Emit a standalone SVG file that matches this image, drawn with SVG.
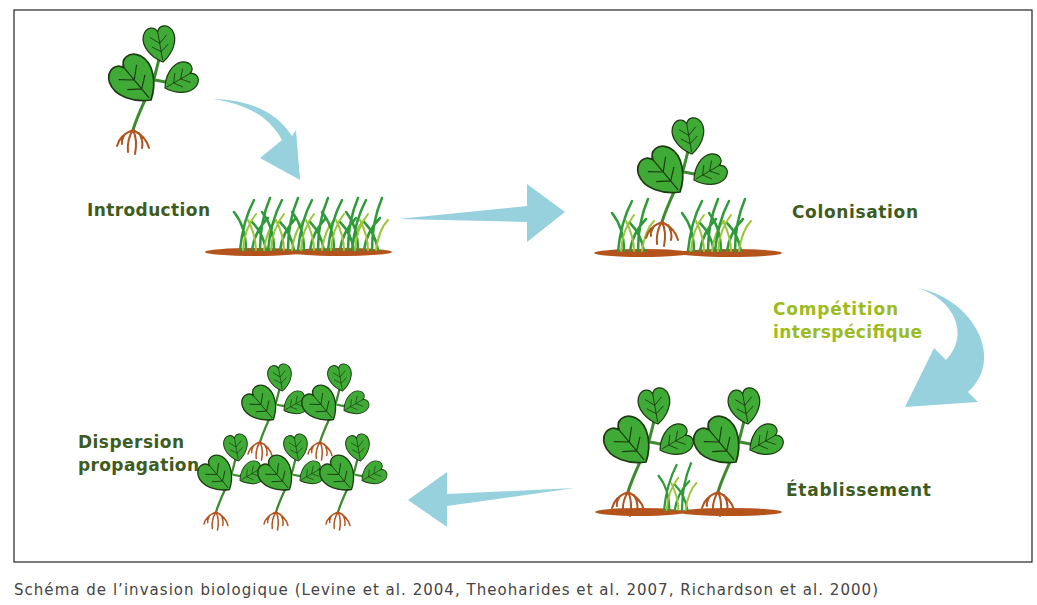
<svg xmlns="http://www.w3.org/2000/svg" xmlns:xlink="http://www.w3.org/1999/xlink" width="1037" height="605" viewBox="0 0 1037 605">
<style>
.lbl{font-family:"DejaVu Sans","Liberation Sans",sans-serif;font-weight:bold;font-size:17px;fill:#3e5b20}
.comp{fill:#9cbb1e}
.cap{font-family:"DejaVu Sans","Liberation Sans",sans-serif;font-size:15px;fill:#444}
.arr{fill:#96d1dd}
.leaf{fill:#3faa35;stroke:#1d3a12;stroke-width:1.2}
.vein{fill:none;stroke:#1d3a12;stroke-width:0.8}
.stem{fill:none;stroke:#3d8a30;stroke-width:3}
.root{fill:none;stroke:#b0551f;stroke-width:2;stroke-linecap:round}
.soil{fill:#b5531c}
.g1{fill:none;stroke:#2f9a3a;stroke-width:2.5;stroke-linecap:round}
.g2{fill:none;stroke:#9cc43a;stroke-width:2;stroke-linecap:round}
</style>
<defs>
<g id="leaf">
<path class="leaf" d="M0,0 C-10,-6 -18,-18 -14,-28 C-10,-36 -2,-35 0,-29 C2,-35 10,-36 14,-28 C18,-18 10,-6 0,0Z"/>
<path class="vein" d="M0,-2 L0,-28 M0,-10 L-8,-16 M0,-10 L8,-16 M0,-18 L-8,-25 M0,-18 L8,-25"/>
</g>
<g id="plant">
<path class="stem" d="M0,0 C6,-20 18,-40 22,-55 C26,-70 28,-80 30,-88"/>
<path class="stem" d="M16,-40 C10,-45 6,-48 4,-50"/>
<path class="stem" d="M22,-50 C30,-48 36,-48 40,-46"/>
<use xlink:href="#leaf" transform="translate(30,-68) rotate(-10) scale(1.05)"/>
<use xlink:href="#leaf" transform="translate(18,-30) rotate(-40) scale(1.45)"/>
<use xlink:href="#leaf" transform="translate(32,-42) rotate(60) scale(1.0)"/>
<path class="root" d="M0,0 C-8,3 -14,8 -16,16 M0,0 C-4,6 -6,12 -5,22 M0,0 C3,6 4,14 2,24 M0,0 C8,4 14,10 16,18 M-8,4 C-10,8 -12,10 -11,14 M6,3 C10,10 10,14 9,18"/>
</g>
<g id="grass">
<path class="g1" d="M0,0 C2,-20 6,-35 14,-50 M6,0 C6,-15 2,-28 -6,-38 M12,0 C14,-14 20,-24 28,-32 M20,0 C20,-20 24,-38 30,-52 M26,0 C24,-12 18,-22 12,-28"/>
<path class="g2" d="M3,0 C4,-16 8,-26 16,-36 M16,0 C16,-12 12,-22 8,-30 M24,0 C26,-14 30,-24 36,-30"/>
</g>
</defs>
<rect x="14" y="10" width="1018" height="552" fill="#fff" stroke="#222" stroke-width="1.2"/>

<g id="introduction">
<use xlink:href="#plant" transform="translate(133,130)"/>
<text class="lbl" x="87" y="216" textLength="123">Introduction</text>
<ellipse class="soil" cx="255" cy="252" rx="50" ry="4"/>
<ellipse class="soil" cx="340" cy="252" rx="52" ry="4"/>
<use xlink:href="#grass" transform="translate(240,250)"/>
<use xlink:href="#grass" transform="translate(268,250)"/>
<use xlink:href="#grass" transform="translate(298,250)"/>
<use xlink:href="#grass" transform="translate(328,250)"/>
<use xlink:href="#grass" transform="translate(352,250)"/>
</g>

<g id="colonisation">
<ellipse class="soil" cx="642" cy="253" rx="48" ry="4"/>
<ellipse class="soil" cx="730" cy="253" rx="52" ry="4"/>
<use xlink:href="#grass" transform="translate(618,251)"/>
<use xlink:href="#grass" transform="translate(688,251)"/>
<use xlink:href="#grass" transform="translate(715,251)"/>
<use xlink:href="#plant" transform="translate(662,222)"/>
<text class="lbl" x="792" y="218" textLength="126">Colonisation</text>
</g>

<g id="competition">
<text class="lbl comp" x="773" y="315" textLength="125">Compétition</text>
<text class="lbl comp" x="773" y="338" textLength="149">interspécifique</text>
</g>

<g id="etablissement">
<ellipse class="soil" cx="640" cy="512" rx="45" ry="4"/>
<ellipse class="soil" cx="730" cy="512" rx="52" ry="4"/>
<use xlink:href="#grass" transform="translate(664,510) scale(0.9)"/>
<use xlink:href="#plant" transform="translate(628,492)"/>
<use xlink:href="#plant" transform="translate(718,492)"/>
<text class="lbl" x="786" y="496" textLength="145">Établissement</text>
</g>

<g id="dispersion">
<text class="lbl" x="78" y="448" textLength="106">Dispersion</text>
<text class="lbl" x="78" y="471" textLength="121">propagation</text>
<use xlink:href="#plant" transform="translate(260,442) scale(0.75)"/>
<use xlink:href="#plant" transform="translate(320,442) scale(0.75)"/>
<use xlink:href="#plant" transform="translate(216,512) scale(0.75)"/>
<use xlink:href="#plant" transform="translate(276,512) scale(0.75)"/>
<use xlink:href="#plant" transform="translate(338,512) scale(0.75)"/>
</g>

<g id="connectors">
<path class="arr" d="M213,99 C245,104 268,115 282,140 L260,158 L300,180 L296,130 L292,136 C278,115 255,100 213,99Z"/>
<path class="arr" d="M398,219 L527,206 L527,184 L565,212 L527,242 L527,222 Z"/>
<path class="arr" d="M918,288 C975,300 1005,360 968,392 L978,402 L905,407 L934,348 L946,360 C970,335 955,300 918,288Z"/>
<path class="arr" d="M575,488 L447,494 L447,472 L408,500 L447,527 L447,506 Z"/>
</g>

<text class="cap" x="14" y="595" textLength="864">Schéma de l’invasion biologique (Levine et al. 2004, Theoharides et al. 2007, Richardson et al. 2000)</text>
</svg>
